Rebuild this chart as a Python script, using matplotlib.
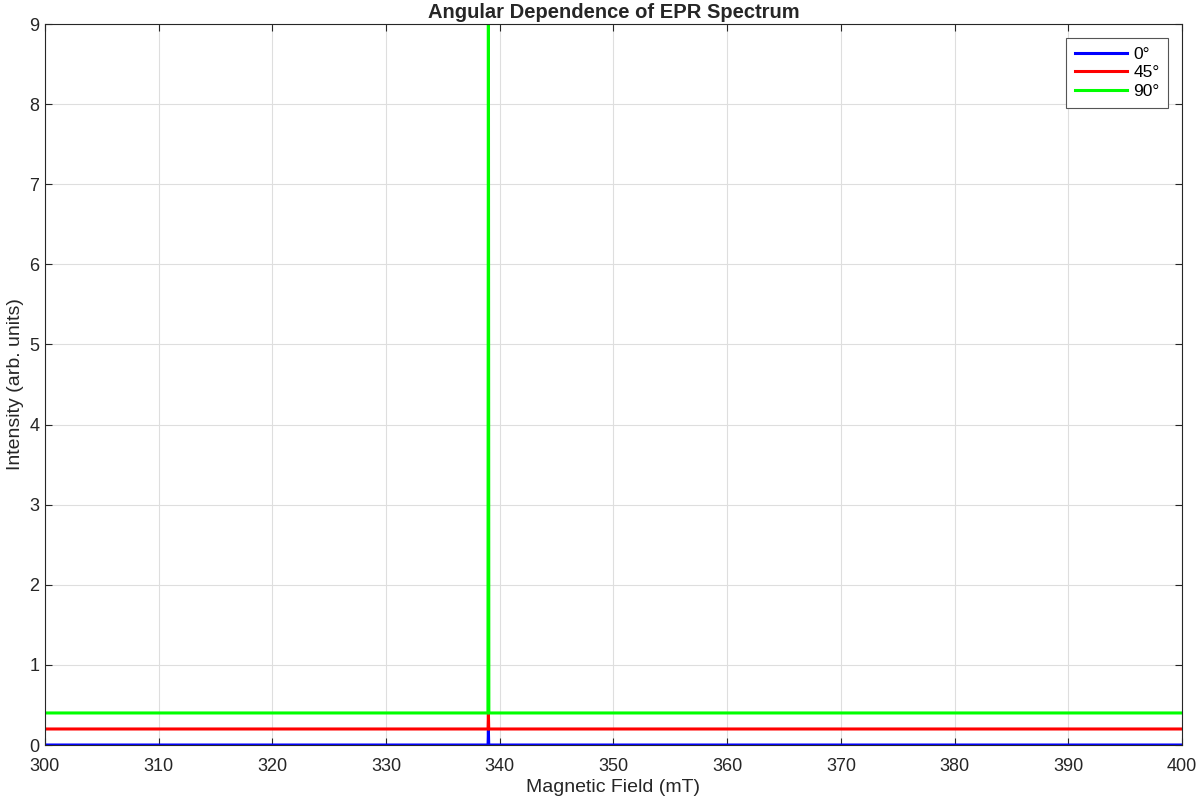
import matplotlib
matplotlib.use("Agg")
import matplotlib.pyplot as plt

plt.rcParams["font.family"] = ["Liberation Sans", "DejaVu Sans"]

# Spectra: baseline offset plus a narrow line near 339 mT
labels = ["0°", "45°", "90°"]
colors = ["#0000ff", "#ff0000", "#00ff00"]
field_0 = [300, 338.97, 339.0, 339.03, 400]
inten_0 = [0.0, 0.0, 0.18, 0.0, 0.0]
field_45 = [300, 338.97, 339.0, 339.03, 400]
inten_45 = [0.2, 0.2, 0.4, 0.2, 0.2]
field_90 = [300, 338.96, 339.0, 339.04, 400]
inten_90 = [0.4, 0.4, 9.6, 0.4, 0.4]

fields = [field_0, field_45, field_90]
intens = [inten_0, inten_45, inten_90]

fig = plt.figure(figsize=(11.99, 8.01), dpi=100)
ax = fig.add_axes([0.0375, 0.0699, 0.9483, 0.9001])

for f, i, c, lab in zip(fields, intens, colors, labels):
    ax.plot(f, i, color=c, linewidth=2.2, label=lab)

ax.set_xlim(300, 400)
ax.set_ylim(0, 9)
ax.set_xticks(range(300, 401, 10))
ax.set_yticks(range(0, 10))
ax.grid(True, color="#dedede", linewidth=0.8)
ax.set_axisbelow(True)
ax.tick_params(direction="in", length=5, labelsize=13, colors="#262626",
               top=True, right=True)
ax.tick_params(axis="x", pad=9)
ax.tick_params(axis="y", pad=4)
for s in ax.spines.values():
    s.set_color("#262626")
    s.set_linewidth(0.8)

ax.set_xlabel("Magnetic Field (mT)", fontsize=14, color="#262626", labelpad=3)
ax.set_ylabel("Intensity (arb. units)", fontsize=14, color="#262626", labelpad=4)
ax.set_title("Angular Dependence of EPR Spectrum", fontsize=14.5, fontweight="bold",
             color="#262626", pad=4)

leg = ax.legend(loc="upper right", fontsize=12.5, fancybox=False, framealpha=1,
                edgecolor="#555555", handlelength=3.0, borderpad=0.5, labelspacing=0.2,
                handletextpad=0.35, borderaxespad=0.8)
leg.get_frame().set_linewidth(0.8)

fig.savefig("out.png", dpi=100)
